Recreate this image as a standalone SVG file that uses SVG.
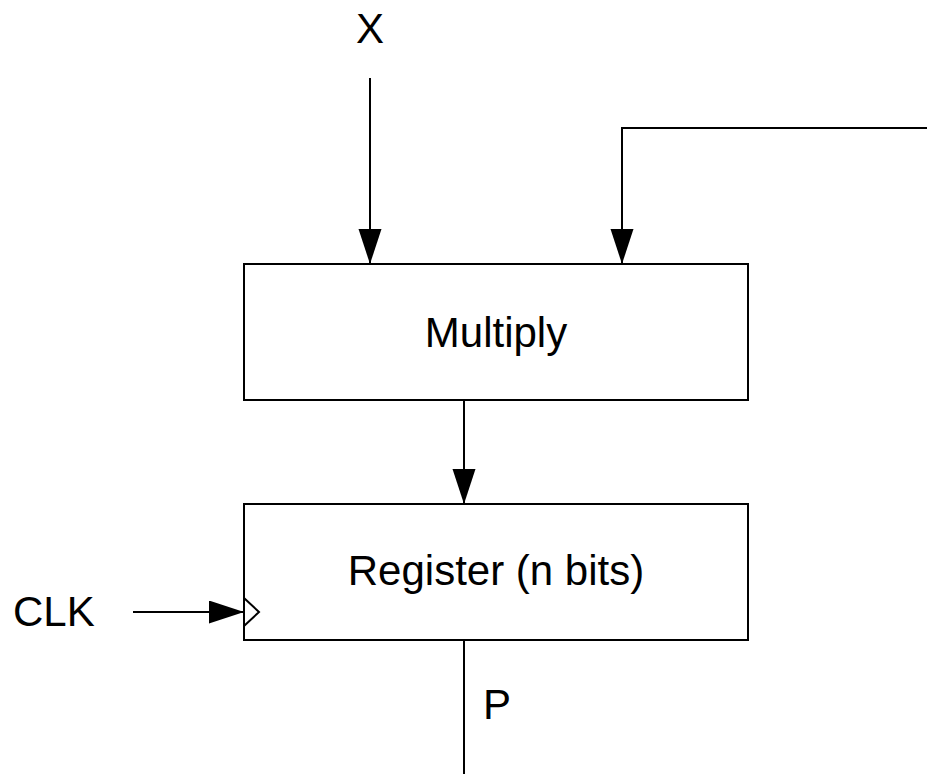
<svg xmlns="http://www.w3.org/2000/svg" width="927" height="774" viewBox="0 0 927 774">
  <style>
    .box { fill: #ffffff; stroke: #000000; stroke-width: 2; }
    .wire { fill: none; stroke: #000000; stroke-width: 2; }
    .lbl { font-family: "Liberation Sans", Arial, sans-serif; font-size: 42px; fill: #000000; }
  </style>
  <defs>
    <marker id="arrow" markerUnits="userSpaceOnUse" markerWidth="36" markerHeight="24" refX="35" refY="11.5" orient="auto">
      <path d="M0,0 L35,11.5 L0,23 Z" fill="#000000"/>
    </marker>
  </defs>
  <rect width="927" height="774" fill="#ffffff"/>

  <g id="connectors">
    <line class="wire" x1="370" y1="78" x2="370" y2="264" marker-end="url(#arrow)"/>
    <polyline class="wire" points="927,128 622,128 622,264" marker-end="url(#arrow)"/>
    <line class="wire" x1="464" y1="400" x2="464" y2="504" marker-end="url(#arrow)"/>
    <line class="wire" x1="133" y1="612" x2="244" y2="612" marker-end="url(#arrow)"/>
    <line class="wire" x1="464" y1="640" x2="464" y2="774"/>
  </g>

  <g id="multiply">
    <rect class="box" x="244" y="264" width="504" height="136"/>
    <text class="lbl" x="496" y="347" text-anchor="middle">Multiply</text>
  </g>

  <g id="register">
    <rect class="box" x="244" y="504" width="504" height="136"/>
    <polyline class="wire" points="244,598 259,612 244,626"/>
    <text class="lbl" x="496" y="585" text-anchor="middle">Register (n bits)</text>
  </g>

  <g id="input-x">
    <text class="lbl" x="370" y="43" text-anchor="middle">X</text>
  </g>
  <g id="clk">
    <text class="lbl" x="13" y="626">CLK</text>
  </g>
  <g id="output-p">
    <text class="lbl" x="483" y="719">P</text>
  </g>
</svg>
